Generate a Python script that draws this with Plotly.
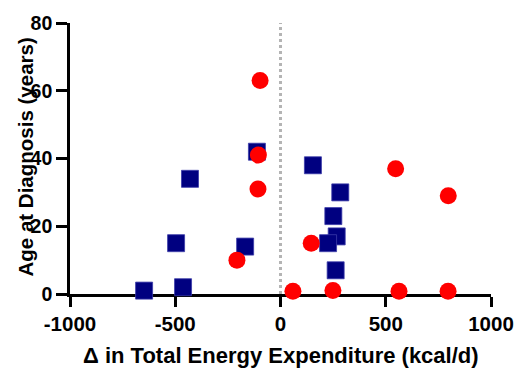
import plotly.graph_objects as go

# Navy squares
sq_x = [-648, -463, -496, -168, -430, -112, 154, 284, 251, 267, 226, 262]
sq_y = [1, 2, 15, 14, 34, 42, 38, 30, 23, 17, 15, 7]
# Red circles
ci_x = [-97, -105, -107, -207, 547, 797, 146, 59, 249, 563, 796]
ci_y = [63, 41, 31, 10, 37, 29, 15, 0.8, 1, 0.8, 0.8]

x_ticks = [-1000, -500, 0, 500, 1000]
y_ticks = [0, 20, 40, 60, 80]

fig = go.Figure()
fig.add_trace(go.Scatter(x=[0, 0], y=[0, 80], mode="lines",
                         line=dict(color="#b4b4b4", width=3, dash="dot"),
                         hoverinfo="skip", showlegend=False))
fig.add_trace(go.Scatter(x=sq_x, y=sq_y, mode="markers", cliponaxis=False,
                         marker=dict(symbol="square", size=17, color="#000080",
                                     line=dict(color="#3a3aa8", width=0.8)),
                         showlegend=False))
fig.add_trace(go.Scatter(x=ci_x, y=ci_y, mode="markers", cliponaxis=False,
                         marker=dict(symbol="circle", size=17, color="#ff0000",
                                     line=dict(width=0)),
                         showlegend=False))

font_fam = "Liberation Sans, Arial, sans-serif"
fig.update_layout(
    width=526, height=374,
    margin=dict(l=70, r=35, t=13, b=80),
    plot_bgcolor="white", paper_bgcolor="white",
    font=dict(family=font_fam, color="black"),
    xaxis=dict(range=[-1000, 1000], tickvals=x_ticks,
               ticktext=[f"<b>{v}</b>" for v in x_ticks],
               showgrid=False, zeroline=False, showline=True,
               linecolor="black", linewidth=2.7, ticks="outside",
               ticklen=10, tickwidth=2.7, tickcolor="black",
               tickfont=dict(size=20.5, family=font_fam),
               layer="below traces"),
    yaxis=dict(range=[0, 80], tickvals=y_ticks,
               ticktext=[f"<b>{v}</b>" for v in y_ticks],
               showgrid=False, zeroline=False, showline=True,
               linecolor="black", linewidth=2.7, ticks="outside",
               ticklen=11, tickwidth=2.7, tickcolor="black",
               tickfont=dict(size=19.5, family=font_fam),
               layer="below traces"),
    annotations=[
        dict(text="<b>Δ in Total Energy Expenditure (kcal/d)</b>",
             x=0.5, y=0, xref="paper", yref="paper", xanchor="center",
             yanchor="middle", yshift=-61, showarrow=False,
             font=dict(size=22, family=font_fam, color="black")),
        dict(text="<b>Age at Diagnosis (years)</b>",
             x=0, y=0.5, xref="paper", yref="paper", xanchor="center",
             yanchor="middle", xshift=-45, yshift=1, textangle=-90,
             showarrow=False,
             font=dict(size=20.5, family=font_fam, color="black")),
    ],
)
fig.write_html("out.html")
